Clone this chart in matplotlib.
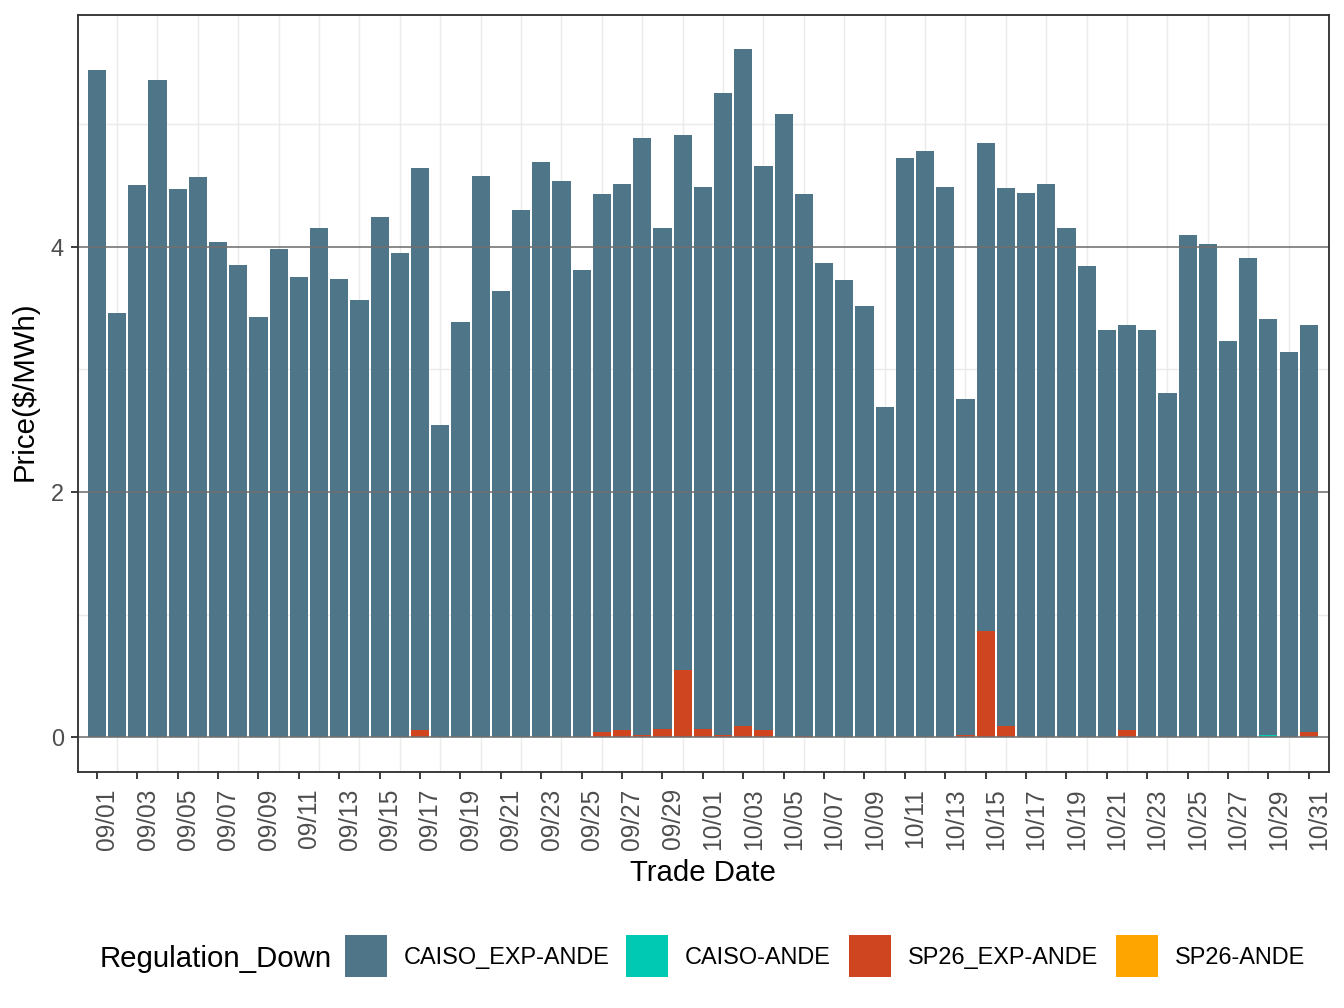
import matplotlib
matplotlib.use("Agg")
import matplotlib.pyplot as plt
import matplotlib.transforms as mtransforms
import numpy as np
import pandas as pd
from matplotlib.patches import Rectangle

plt.rcParams["font.family"] = ["Liberation Sans", "DejaVu Sans"]

# trade dates (Sep 1 - Oct 31)
dates = pd.date_range("2020-09-01", "2020-10-31", freq="D")
date_labels = list(dates.strftime("%m/%d"))

series_names = ["CAISO_EXP-ANDE", "CAISO-ANDE", "SP26_EXP-ANDE", "SP26-ANDE"]
series_colors = ["#4F7589", "#00C9B3", "#CF4520", "#FFA500"]

# CAISO_EXP-ANDE segment heights, one per day
caiso_exp = [
    5.44, 3.46, 4.50, 5.36, 4.47, 4.57, 4.04, 3.85, 3.43, 3.98,
    3.75, 4.15, 3.74, 3.57, 4.24, 3.95, 4.58, 2.55, 3.39, 4.58,
    3.64, 4.30, 4.69, 4.54, 3.81, 4.39, 4.45, 4.87, 4.08, 4.36,
    4.42, 5.23, 5.52, 4.60, 5.08, 4.42, 3.87, 3.73, 3.52, 2.69,
    4.72, 4.78, 4.49, 2.74, 3.98, 4.39, 4.44, 4.51, 4.15, 3.84,
    3.32, 3.30, 3.32, 2.81, 4.10, 4.02, 3.23, 3.91, 3.39, 3.14,
    3.32,
]
# the other series are zero on most days
caiso_vals = {"10/29": 0.02}
sp26_exp_vals = {
    "09/17": 0.06, "09/26": 0.04, "09/27": 0.06, "09/28": 0.02, "09/29": 0.07,
    "09/30": 0.55, "10/01": 0.07, "10/02": 0.02, "10/03": 0.09, "10/04": 0.06,
    "10/06": 0.01, "10/14": 0.02, "10/15": 0.87, "10/16": 0.09, "10/22": 0.06,
    "10/31": 0.04,
}
sp26_vals = {}

caiso = np.array([caiso_vals.get(d, 0.0) for d in date_labels])
sp26_exp = np.array([sp26_exp_vals.get(d, 0.0) for d in date_labels])
sp26 = np.array([sp26_vals.get(d, 0.0) for d in date_labels])
caiso_exp = np.array(caiso_exp)

W, H = 1344, 1008
fig = plt.figure(figsize=(7, 5.25), dpi=192)
left, right, top, bottom = 77.5, 1329, 15, 771.7
ax = fig.add_axes([left / W, 1 - bottom / H, (right - left) / W, (bottom - top) / H])

x = np.arange(len(date_labels))

# stacked bars, first legend level on top (ggplot order)
base = np.zeros(len(x))
for vals, col in [(sp26, series_colors[3]), (sp26_exp, series_colors[2]),
                  (caiso, series_colors[1]), (caiso_exp, series_colors[0])]:
    ax.bar(x, vals, bottom=base, width=0.9, color=col, linewidth=0, zorder=2)
    base = base + vals

ax.set_xlim(-0.96, 61.0)
ax.set_ylim(-0.2805, 5.89)

# grid
for y in [1, 3, 5]:
    ax.axhline(y, color="#EBEBEB", lw=0.55, zorder=0)
for xi in x[1::2]:
    ax.axvline(xi, color="#EBEBEB", lw=0.55, zorder=0)
for y in [0, 2, 4]:
    ax.axhline(y, color="#707070", lw=0.6, zorder=3)

ax.set_yticks([0, 2, 4])
ax.set_yticklabels(["0", "2", "4"])
ax.set_xticks(x[::2])
ax.set_xticklabels([date_labels[i] for i in x[::2]], rotation=90, ha="center", va="top")

ax.tick_params(axis="both", colors="#333333", length=2.75, width=0.7,
               labelsize=8.8, labelcolor="#4D4D4D")
ax.tick_params(axis="x", pad=3.5, labelsize=9.2)
ax.tick_params(axis="y", pad=2.4)

# ggplot puts the rotated labels just right of the tick
shift = mtransforms.ScaledTranslation(3.9 / 72, 0, fig.dpi_scale_trans)
for lab in ax.get_xticklabels():
    lab.set_transform(lab.get_transform() + shift)

for sp in ax.spines.values():
    sp.set_color("#333333")
    sp.set_linewidth(0.7)
    sp.set_zorder(4)

fig.text((left + right) / 2 / W, 1 - 880.7 / H, "Trade Date", ha="center",
         va="baseline", fontsize=11, color="black")
fig.text(24.9 / W, 1 - 391 / H, "Price($/MWh)", ha="center", va="center",
         rotation=90, fontsize=11, color="black")

# legend at the bottom
fig.text(100 / W, 1 - 966.7 / H, "Regulation_Down", ha="left", va="baseline",
         fontsize=11, color="black")
key_x = [345, 626, 849, 1116]
for kx, name, col in zip(key_x, series_names, series_colors):
    fig.add_artist(Rectangle((kx / W, 1 - 976.7 / H), 41.7 / W, 41.7 / H,
                             transform=fig.transFigure, facecolor=col, edgecolor="none"))
    fig.text((kx + 59) / W, 1 - 964.4 / H, name, ha="left", va="baseline",
             fontsize=8.8, color="black")

fig.savefig("out.png", dpi=192)
